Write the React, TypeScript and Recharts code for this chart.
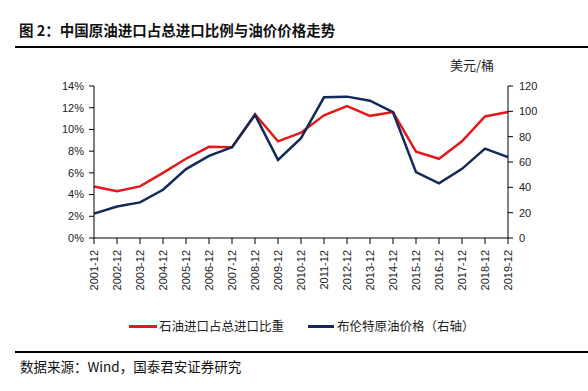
import { LineChart, Line, XAxis, YAxis } from "recharts";

const years = [
  "2001-12", "2002-12", "2003-12", "2004-12", "2005-12", "2006-12", "2007-12",
  "2008-12", "2009-12", "2010-12", "2011-12", "2012-12", "2013-12", "2014-12",
  "2015-12", "2016-12", "2017-12", "2018-12", "2019-12",
];
// 石油进口占总进口比重 (%)
const importShare = [
  4.75, 4.3, 4.75, 6.0, 7.3, 8.4, 8.35, 11.4, 8.9, 9.7,
  11.3, 12.15, 11.25, 11.6, 7.95, 7.3, 8.9, 11.2, 11.6,
];
// 布伦特原油价格 (美元/桶)
const brentPrice = [
  19.2, 24.9, 28.1, 38.1, 54.4, 64.9, 71.7, 97.2, 61.7, 78.8,
  111.1, 111.6, 108.4, 99.3, 52.0, 43.1, 54.6, 70.6, 63.8,
];
const pctTicks = [0, 2, 4, 6, 8, 10, 12, 14];
const priceTicks = [0, 20, 40, 60, 80, 100, 120];

const RED = "#e3191c";
const NAVY = "#112a5a";
const TICK_FONT = "'Liberation Sans', Arial, sans-serif";
const CJK_FONT = "'Noto Sans CJK SC', sans-serif";

const data = years.map((y, i) => ({
  year: y,
  share: importShare[i],
  brent: brentPrice[i],
}));

const YearTick = ({ x, y, payload }: any) => (
  <text
    transform={`translate(${x},${y + 4}) rotate(-90)`}
    textAnchor="end"
    dy="0.35em"
    fontSize={11}
    fontFamily={TICK_FONT}
    fill="#222"
  >
    {payload.value}
  </text>
);

export default function App() {
  return (
    <div
      style={{
        position: "absolute",
        left: 0,
        top: 0,
        width: 588,
        height: 391,
        background: "#fff",
        overflow: "hidden",
      }}
    >
      <div
        style={{
          position: "absolute",
          left: 19,
          top: 19,
          fontFamily: CJK_FONT,
          fontWeight: 700,
          fontSize: 14.5,
          lineHeight: "22px",
          color: "#111",
          whiteSpace: "nowrap",
        }}
      >
        图 2：中国原油进口占总进口比例与油价价格走势
      </div>
      <div
        style={{
          position: "absolute",
          left: 15,
          top: 46,
          width: 573,
          height: 1.5,
          background: "#000",
        }}
      />
      <div
        style={{
          position: "absolute",
          left: 450,
          top: 56,
          fontFamily: CJK_FONT,
          fontSize: 13,
          lineHeight: "18px",
          color: "#222",
          whiteSpace: "nowrap",
        }}
      >
        美元/桶
      </div>

      <div style={{ position: "absolute", left: 0, top: 0 }}>
        <LineChart
          width={588}
          height={300}
          data={data}
          margin={{ top: 86, right: 0, left: 0, bottom: 0 }}
        >
          <XAxis
            dataKey="year"
            height={62}
            interval={0}
            tick={<YearTick />}
            tickSize={6}
            axisLine={{ stroke: "#000" }}
            tickLine={{ stroke: "#000" }}
          />
          <YAxis
            yAxisId="left"
            orientation="left"
            width={94}
            domain={[0, 14]}
            ticks={pctTicks}
            tickFormatter={(v: number) => `${v}%`}
            tickSize={5}
            tickMargin={5}
            axisLine={{ stroke: "#000" }}
            tickLine={{ stroke: "#000" }}
            tick={{ fontSize: 11, fontFamily: TICK_FONT, fill: "#222" }}
          />
          <YAxis
            yAxisId="right"
            orientation="right"
            width={80}
            domain={[0, 120]}
            ticks={priceTicks}
            tickSize={5}
            tickMargin={6}
            axisLine={{ stroke: "#000" }}
            tickLine={{ stroke: "#000" }}
            tick={{ fontSize: 11, fontFamily: TICK_FONT, fill: "#222" }}
          />
          <Line
            yAxisId="left"
            dataKey="share"
            type="linear"
            stroke={RED}
            strokeWidth={2.5}
            dot={false}
            isAnimationActive={false}
          />
          <Line
            yAxisId="right"
            dataKey="brent"
            type="linear"
            stroke={NAVY}
            strokeWidth={2.5}
            dot={false}
            isAnimationActive={false}
          />
        </LineChart>
      </div>

      {/* legend */}
      <div
        style={{
          position: "absolute",
          left: 129,
          top: 317,
          display: "flex",
          alignItems: "center",
          fontFamily: CJK_FONT,
          fontSize: 12.5,
          lineHeight: "18px",
          color: "#222",
          whiteSpace: "nowrap",
        }}
      >
        <span style={{ width: 28, height: 3, background: RED, marginRight: 2 }} />
        <span>石油进口占总进口比重</span>
        <span
          style={{
            width: 26,
            height: 3,
            background: NAVY,
            marginLeft: 24,
            marginRight: 3,
          }}
        />
        <span>布伦特原油价格（右轴）</span>
      </div>

      <div
        style={{
          position: "absolute",
          left: 15,
          top: 351,
          width: 573,
          height: 1.5,
          background: "#000",
        }}
      />
      <div
        style={{
          position: "absolute",
          left: 20,
          top: 356,
          fontFamily: CJK_FONT,
          fontSize: 13.5,
          lineHeight: "20px",
          color: "#111",
          whiteSpace: "nowrap",
        }}
      >
        数据来源：Wind，国泰君安证券研究
      </div>
    </div>
  );
}
